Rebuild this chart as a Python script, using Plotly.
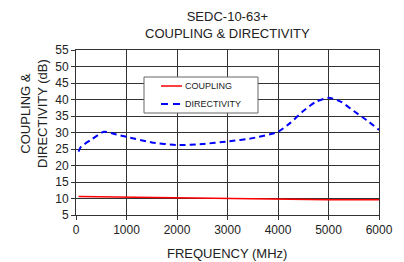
import plotly.graph_objects as go

freq_c = [50, 1000, 2000, 3000, 4000, 5000, 6000]
coupling = [10.6, 10.4, 10.1, 9.9, 9.7, 9.6, 9.6]

freq_d = [50, 100, 300, 550, 800, 1000, 1500, 2000, 2500, 3000, 3500, 4000, 4250, 4500, 4750, 5000, 5250, 5500, 5750, 6000]
directivity = [24.2, 25.7, 27.8, 30.2, 29.4, 28.7, 27.0, 26.2, 26.5, 27.3, 28.3, 30.2, 33.0, 36.5, 39.3, 40.5, 39.3, 36.5, 33.8, 30.8]

x_ticks = [0, 1000, 2000, 3000, 4000, 5000, 6000]
y_ticks = [5, 10, 15, 20, 25, 30, 35, 40, 45, 50, 55]

series_names = ["COUPLING", "DIRECTIVITY"]
series_colors = ["#ff0000", "#0000ff"]

title_text = "SEDC-10-63+<br>COUPLING & DIRECTIVITY"
x_title = "FREQUENCY (MHz)"
y_title = "COUPLING &<br>DIRECTIVITY (dB)"

font = "Liberation Sans, Arial, sans-serif"
W, H = 404, 262
L, R, T, B = 76, 25, 50, 47

fig = go.Figure()
fig.add_trace(go.Scatter(x=freq_c, y=coupling, mode="lines", name=series_names[0],
                         line=dict(color=series_colors[0], width=1.5)))
fig.add_trace(go.Scatter(x=freq_d, y=directivity, mode="lines", name=series_names[1],
                         line=dict(color=series_colors[1], width=2, dash="6px,4px",
                                   shape="spline", smoothing=0.6)))

pw = W - L - R
ph = H - T - B

def px_x(p):
    return (p - L) / pw

def px_y(p):
    return (H - B - p) / ph

# custom legend box (drawn in paper coords)
shapes = [
    dict(type="rect", xref="paper", yref="paper", x0=px_x(144), x1=px_x(258),
         y0=px_y(113), y1=px_y(77), fillcolor="white", line=dict(color="#666", width=1), layer="above"),
    dict(type="line", xref="paper", yref="paper", x0=px_x(161), x1=px_x(182),
         y0=px_y(86), y1=px_y(86), line=dict(color=series_colors[0], width=1.5), layer="above"),
    dict(type="line", xref="paper", yref="paper", x0=px_x(161), x1=px_x(182),
         y0=px_y(104), y1=px_y(104), line=dict(color=series_colors[1], width=2, dash="7px,5px"), layer="above"),
]

annotations = [
    dict(text=title_text, xref="paper", yref="paper", x=px_x(227), y=px_y(25),
         xanchor="center", yanchor="middle", showarrow=False,
         font=dict(size=13, family=font, color="#222")),
    dict(text=x_title, xref="paper", yref="paper", x=px_x(227), y=px_y(253),
         xanchor="center", yanchor="middle", showarrow=False,
         font=dict(size=13, family=font, color="#222")),
    dict(text=y_title, xref="paper", yref="paper", x=px_x(34), y=px_y(113),
         xanchor="center", yanchor="middle", showarrow=False, textangle=-90,
         font=dict(size=13, family=font, color="#222")),
    dict(text=series_names[0], xref="paper", yref="paper", x=px_x(183), y=px_y(86),
         xanchor="left", yanchor="middle", showarrow=False,
         font=dict(size=9, family=font, color="#222")),
    dict(text=series_names[1], xref="paper", yref="paper", x=px_x(183), y=px_y(104),
         xanchor="left", yanchor="middle", showarrow=False,
         font=dict(size=9, family=font, color="#222")),
]

fig.update_layout(
    width=W, height=H,
    margin=dict(l=L, r=R, t=T, b=B, autoexpand=False),
    paper_bgcolor="white", plot_bgcolor="white",
    font=dict(family=font, size=12, color="#222"),
    showlegend=False,
    shapes=shapes,
    annotations=annotations,
)
fig.update_xaxes(range=[0, 6000], tickvals=x_ticks, showgrid=True, gridcolor="#333", gridwidth=1,
                 showline=True, linecolor="#333", mirror=True, zeroline=False,
                 ticks="outside", ticklen=4, tickcolor="#333", automargin=False,
                 tickfont=dict(size=12))
fig.update_yaxes(range=[5, 55], tickvals=y_ticks, showgrid=True, gridcolor="#333", gridwidth=1,
                 showline=True, linecolor="#333", mirror=True, zeroline=False,
                 ticks="outside", ticklen=4, tickcolor="#333", automargin=False,
                 tickfont=dict(size=12))

fig.write_html("out.html", config={"displayModeBar": False},
               post_script="document.body.style.margin='0';document.body.style.overflow='hidden';")
